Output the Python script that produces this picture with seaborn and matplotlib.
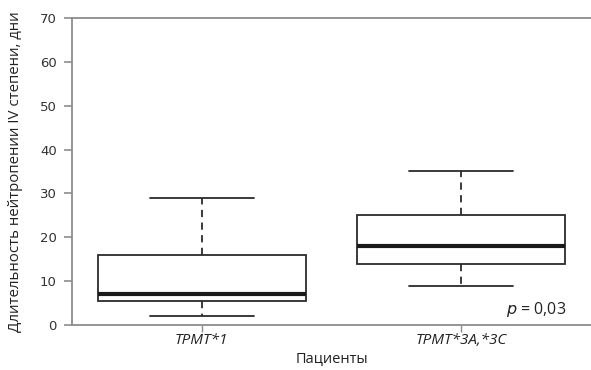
import matplotlib
matplotlib.use("Agg")
import matplotlib.pyplot as plt
import seaborn as sns
import pandas as pd

# Five-number summaries (min, Q1, median, Q3, max)
groups = ["TPMT*1", "TPMT*3A,*3C"]
tpmt1_values = [2, 5.5, 7, 16, 29]
tpmt3_values = [9, 14, 18, 25, 35]
y_ticks = [0, 10, 20, 30, 40, 50, 60, 70]

df = pd.DataFrame({
    "group": [groups[0]] * len(tpmt1_values) + [groups[1]] * len(tpmt3_values),
    "days": tpmt1_values + tpmt3_values,
})

sns.set_style("white")
plt.rcParams["font.family"] = ["DejaVu Sans"]

fig = plt.figure(figsize=(5.91, 3.70), dpi=100)
ax = fig.add_axes([0.1218, 0.1216, 0.8782, 0.8298])

dark = "#2b2b2b"
sns.boxplot(data=df, x="group", y="days", order=groups, whis=float("inf"),
            width=0.8, color="white", linewidth=1.3, linecolor=dark,
            showfliers=False, ax=ax,
            boxprops=dict(facecolor="white", edgecolor=dark, linewidth=1.3),
            medianprops=dict(color="#1a1a1a", linewidth=3),
            whiskerprops=dict(color=dark, linewidth=1.3, linestyle=(0, (4, 3))),
            capprops=dict(color=dark, linewidth=1.3))

ax.set_xlim(-0.5, 1.5)
ax.set_ylim(0, 70)
ax.set_yticks(y_ticks)
ax.set_yticklabels([str(t) for t in y_ticks], fontsize=9.5, color="#333333")

spine_col = "#8c8c8c"
for side in ["left", "top", "bottom"]:
    ax.spines[side].set_visible(True)
    ax.spines[side].set_color(spine_col)
    ax.spines[side].set_linewidth(1.3)
ax.spines["right"].set_visible(False)

ax.tick_params(axis="y", which="both", left=True, length=6, width=1.2,
               color=spine_col, pad=5)
ax.tick_params(axis="x", which="both", bottom=True, length=5, width=1.0,
               color=spine_col, pad=1)

for lbl in ax.get_xticklabels():
    lbl.set_fontstyle("italic")
    lbl.set_fontsize(11)
    lbl.set_color("#222222")
    lbl.set_family("Open Sans")

ax.set_xlabel("Пациенты", fontsize=10.5, color="#222222", family="Open Sans")
ax.xaxis.set_label_coords(0.5, -0.085)
ax.set_ylabel("Длительность нейтропении IV степени, дни", fontsize=10.8,
              color="#222222", family="Open Sans")
ax.yaxis.set_label_coords(-0.095, 0.5)

ax.text(1.405, 3.6, r"$\it{p}$ = 0,03", ha="right", va="center",
        fontsize=11.5, color="#222222", family="Open Sans")

fig.savefig("out.png", dpi=100)
